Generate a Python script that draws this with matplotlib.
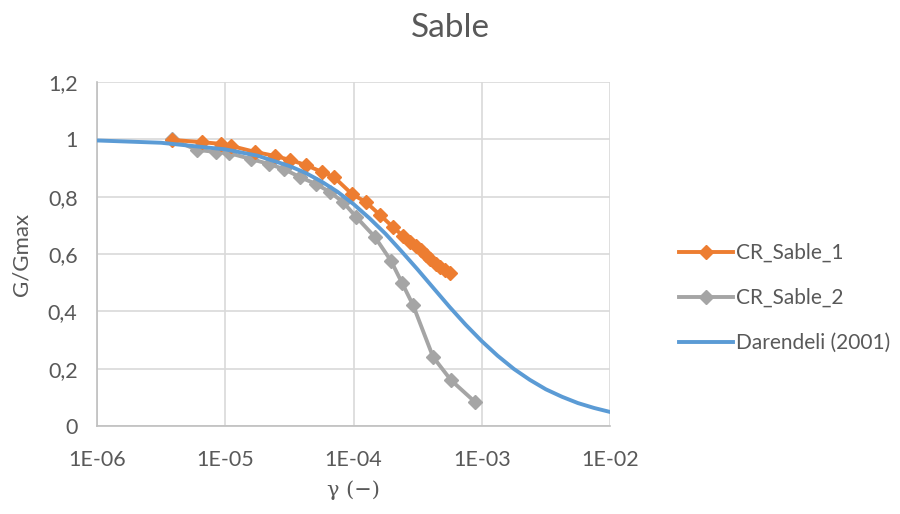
import matplotlib
matplotlib.use('Agg')
import matplotlib.pyplot as plt
from matplotlib.ticker import FixedLocator, FixedFormatter

plt.rcParams['font.family'] = ['Lato', 'DejaVu Sans']

# CR_Sable_1 (orange)
gamma_1 = [3.85e-6, 6.6e-6, 9.3e-6, 1.11e-5, 1.71e-5, 2.44e-5, 3.2e-5, 4.27e-5,
           5.68e-5, 7.05e-5, 9.73e-5, 1.25e-4, 1.61e-4, 2.03e-4, 2.43e-4, 2.76e-4,
           3.07e-4, 3.36e-4, 3.68e-4, 3.95e-4, 4.4e-4, 4.72e-4, 5.17e-4, 5.65e-4]
g_1 = [0.998, 0.990, 0.984, 0.977, 0.956, 0.942, 0.928, 0.910,
       0.886, 0.868, 0.809, 0.781, 0.736, 0.694, 0.663, 0.642,
       0.628, 0.614, 0.596, 0.582, 0.565, 0.555, 0.544, 0.534]

# CR_Sable_2 (gray)
gamma_2 = [3.85e-6, 6.03e-6, 8.47e-6, 1.07e-5, 1.59e-5, 2.19e-5, 2.87e-5, 3.83e-5,
           5.1e-5, 6.56e-5, 8.29e-5, 1.05e-4, 1.47e-4, 1.96e-4, 2.39e-4, 2.91e-4,
           4.17e-4, 5.75e-4, 8.85e-4]
g_2 = [1.0, 0.963, 0.956, 0.952, 0.931, 0.914, 0.896, 0.868,
       0.844, 0.816, 0.781, 0.729, 0.659, 0.576, 0.499, 0.422,
       0.241, 0.160, 0.084]

# Darendeli (2001)
gamma_d = [1e-6, 3.16e-6, 1e-5, 1.78e-5, 3.16e-5, 4.22e-5, 5.62e-5, 7.5e-5, 1e-4,
           1.33e-4, 1.78e-4, 2.37e-4, 3.16e-4, 4.22e-4, 5.62e-4, 7.5e-4, 1e-3,
           1.33e-3, 1.78e-3, 2.37e-3, 3.16e-3, 4.22e-3, 5.62e-3, 7.5e-3, 1e-2]
g_d = [0.996, 0.988, 0.965, 0.943, 0.907, 0.883, 0.853, 0.817, 0.774,
       0.725, 0.670, 0.609, 0.546, 0.480, 0.415, 0.353, 0.296,
       0.245, 0.199, 0.161, 0.128, 0.102, 0.080, 0.063, 0.049]

x_ticks = [1e-6, 1e-5, 1e-4, 1e-3, 1e-2]
x_labels = ['1E-06', '1E-05', '1E-04', '1E-03', '1E-02']
y_ticks = [0, 0.2, 0.4, 0.6, 0.8, 1.0, 1.2]
y_labels = ['0', '0,2', '0,4', '0,6', '0,8', '1', '1,2']

text_col = '#595959'

fig = plt.figure(figsize=(9, 5.14), dpi=100)
ax = fig.add_axes([0.1078, 0.1712, 0.57, 0.6693])

ax.plot(gamma_1, g_1, color='#ED7D31', lw=2.8, marker='D', ms=7,
        label='CR_Sable_1', zorder=3)
ax.plot(gamma_2, g_2, color='#A5A5A5', lw=2.8, marker='D', ms=7,
        label='CR_Sable_2', zorder=2)
ax.plot(gamma_d, g_d, color='#5B9BD5', lw=2.8, label='Darendeli (2001)', zorder=4)

ax.set_xscale('log')
ax.set_xlim(1e-6, 1e-2)
ax.set_ylim(0, 1.2)
ax.xaxis.set_major_locator(FixedLocator(x_ticks))
ax.xaxis.set_major_formatter(FixedFormatter(x_labels))
ax.xaxis.set_minor_locator(FixedLocator([]))
ax.yaxis.set_major_locator(FixedLocator(y_ticks))
ax.yaxis.set_major_formatter(FixedFormatter(y_labels))

ax.grid(True, color='#D9D9D9', lw=1.2, zorder=0)
ax.set_axisbelow(True)
for s in ['top', 'right']:
    ax.spines[s].set_visible(False)
for s in ['left', 'bottom']:
    ax.spines[s].set_color('#BFBFBF')
    ax.spines[s].set_linewidth(1.2)
ax.tick_params(length=0, labelsize=15.5, colors=text_col)
ax.tick_params(axis='y', pad=14)
ax.tick_params(axis='x', pad=17)

fig.text(0.5, 1 - 28 / 514, 'Sable', fontsize=24, color=text_col,
         ha='center', va='center')
ax.set_xlabel('γ (−)', fontsize=15, color=text_col, family=['DejaVu Serif'], labelpad=8)
ax.set_ylabel('G/Gmax', fontsize=16, color=text_col, labelpad=12)

leg = fig.legend(loc='center left', bbox_to_anchor=(0.754, 1 - 298 / 514), frameon=False,
                 fontsize=15, labelspacing=1.2, handlelength=2.6, handletextpad=0.15,
                 borderaxespad=0, borderpad=0)
for t in leg.get_texts():
    t.set_color(text_col)

fig.savefig('out.png', dpi=100)
